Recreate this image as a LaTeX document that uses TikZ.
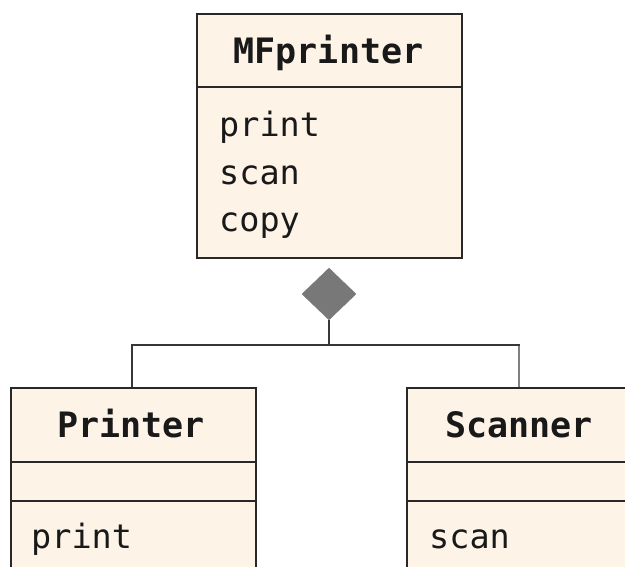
\documentclass[tikz,border=0pt]{standalone}
\usepackage{fontspec}
\setmonofont{DejaVu Sans Mono}
\usetikzlibrary{shapes.geometric}
\definecolor{boxfill}{RGB}{253,243,231}
\definecolor{boxline}{RGB}{40,40,40}
\definecolor{diafill}{RGB}{120,120,120}
\definecolor{linkline}{RGB}{55,55,55}
\tikzset{
  umlbox/.style={draw=boxline, fill=boxfill, line width=1.8pt, inner sep=0pt, anchor=north west},
  divider/.style={draw=boxline, line width=1.8pt},
  classname/.style={font=\ttfamily\bfseries\fontsize{35}{38}\selectfont, anchor=base, inner sep=0pt, text=black!90},
  member/.style={font=\ttfamily\fontsize{33.5}{36}\selectfont, anchor=base west, inner sep=0pt, text=black!90},
  composition/.style={diamond, fill=diafill, draw=diafill, minimum width=54pt, minimum height=52pt, inner sep=0pt},
  link/.style={draw=linkline, line width=1.6pt}
}
\begin{document}
\begin{tikzpicture}[x=1pt, y=-1pt]
\useasboundingbox (0,0) rectangle (625,567);
\clip (0,0) rectangle (625,567);

% MFprinter class
\node[umlbox, minimum width=265pt, minimum height=244pt] (mf) at (196,13) {};
\draw[divider] (mf.west |- 0,87) -- (mf.east |- 0,87);
\node[classname] (mfname) at (328.5,64) {MFprinter};
\node[member] (mfprint) at (219,137) {print};
\node[member] (mfscan) at (219,185) {scan};
\node[member] (mfcopy) at (219,232) {copy};

% Printer class
\node[umlbox, minimum width=245pt, minimum height=220pt] (pr) at (10,387) {};
\draw[divider] (pr.west |- 0,462) -- (pr.east |- 0,462);
\draw[divider] (pr.west |- 0,501) -- (pr.east |- 0,501);
\node[classname] (prname) at (131,437) {Printer};
\node[member] (prprint) at (31,548) {print};

% Scanner class
\node[umlbox, minimum width=236pt, minimum height=220pt] (sc) at (406,387) {};
\draw[divider] (sc.west |- 0,462) -- (sc.east |- 0,462);
\draw[divider] (sc.west |- 0,501) -- (sc.east |- 0,501);
\node[classname] (scname) at (519,437) {Scanner};
\node[member] (scscan) at (429,548) {scan};

% composition diamond and connectors
\node[composition] (dia) at (329,294) {};
\coordinate (split) at (329,345);
\coordinate (rightbend) at (519,345);
\draw[link] (dia.south) -- (split);
\draw[link] (split) -| (pr.north -| 132,0);
\draw[link, draw=black!50] (rightbend) -- (sc.north -| 519,0);
\draw[link, line cap=rect] (split) -- (rightbend);
\end{tikzpicture}
\end{document}
